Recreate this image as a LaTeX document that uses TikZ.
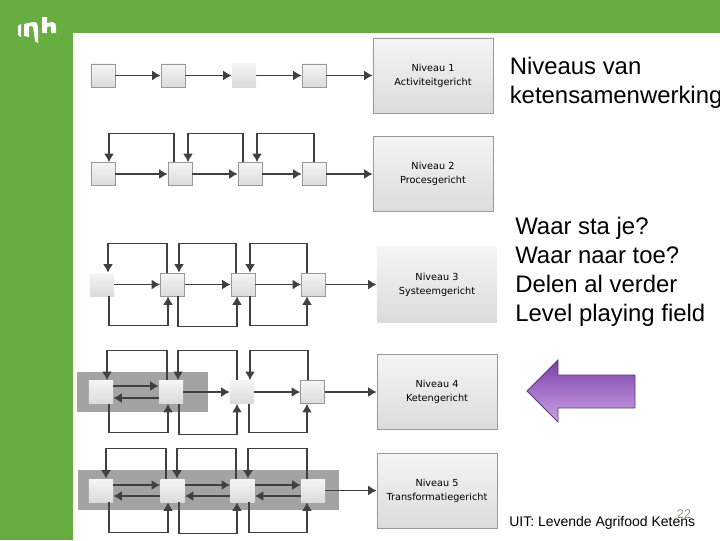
\documentclass[tikz,border=0pt]{standalone}
\usepackage{fontspec}
\setmainfont{Liberation Sans}
\newfontfamily\labelfont{DejaVu Sans}
\usetikzlibrary{arrows.meta,calc}
\definecolor{band}{HTML}{68AD3F}
\definecolor{flowgray}{HTML}{404040}
\definecolor{edgegray}{HTML}{999999}
\definecolor{zone}{HTML}{A3A3A3}
\definecolor{pagenr}{HTML}{7F9F6F}
\definecolor{purpletop}{HTML}{7B3FA8}
\definecolor{purplelow}{HTML}{CBA4E6}
\definecolor{purpleedge}{HTML}{5E3A80}

\begin{document}
\begin{tikzpicture}[
      x=0.025cm,y=-0.025cm,
      step box/.style={draw=edgegray,top color=black!4,bottom color=black!14,minimum width=0.6cm,minimum height=0.575cm,inner sep=0pt,line width=0.5pt},
      flat box/.style={step box,draw=none},
      level box/.style={draw=edgegray,top color=black!4,bottom color=black!14,minimum width=3cm,minimum height=1.875cm,align=center,inner sep=0pt,font=\labelfont\fontsize{6.9}{10}\selectfont,line width=0.5pt},
      flow/.style={draw=flowgray,line width=0.9pt,-{Latex[length=6pt,width=7pt]}},
      body/.style={anchor=west,align=left,inner sep=0pt,font=\fontsize{17}{20.6}\selectfont}]

    \useasboundingbox (0,0) rectangle (720,540);

    % page
    \fill[band] (0,0) rectangle (720,33);
    \fill[band] (0,0) rectangle (73,540);
    \fill[white] (18,26) -- (21,24) -- (21,37) -- (18,35) -- cycle;
    \fill[white] (24,24) -- (33,22) .. controls (37,22) and (38,24) .. (38,27) -- (38,43) -- (35,41) -- (33,27) .. controls (33,26) and (31,26) .. (29,26) -- (29,37) -- (24,36) -- cycle;
    \fill[white] (42,17) -- (47,17) -- (47,23) -- (52,22) .. controls (55,22) and (56,24) .. (56,26) -- (56,33) -- (51,33) -- (51,27) .. controls (51,26) and (49,26) .. (47,27) -- (47,33) -- (42,33) -- cycle;

    % grey zones
    \fill[zone] (77,372) rectangle (208,412);
    \fill[zone] (78,470) rectangle (339,510);

    % level 1
    \node[step box] (b11) at (103,75.5) {};
    \node[step box] (b12) at (173,75.5) {};
    \node[flat box] (b13) at (244,75.5) {};
    \node[step box] (b14) at (314,75.5) {};
    \node[level box] (l1) at (433,75.5) {Niveau 1\\Activiteitgericht};

    \draw[flow] (b11) -- (b12);
    \draw[flow] (b12) -- (b13);
    \draw[flow] (b13) -- (b14);
    \draw[flow] (b14) -- (l1);

    % level 2
    \node[step box] (b21) at (103,174) {};
    \node[step box] (b22) at (180,174) {};
    \node[step box] (b23) at (250,174) {};
    \node[step box] (b24) at (314,174) {};
    \node[level box] (l2) at (433,174) {Niveau 2\\Procesgericht};

    \draw[flow] (b21) -- (b22);
    \draw[flow] (b22) -- (b23);
    \draw[flow] (b23) -- (b24);
    \draw[flow] (b24) -- (l2);
    \draw[flow] ($(b22.north)+(-6,0)$) -- ++(0,-29) -| ($(b21.north)+(6,0)$);
    \draw[flow] ($(b23.north)+(-7,0)$) -- ++(0,-29) -| ($(b22.north)+(8,0)$);
    \draw[flow] (b24.north) -- ++(0,-29) -| ($(b23.north)+(7,0)$);

    % level 3
    \node[flat box] (b31) at (102,284.5) {};
    \node[step box] (b32) at (172.5,284.5) {};
    \node[step box] (b33) at (243,284.5) {};
    \node[step box] (b34) at (313.5,284.5) {};
    \node[level box,draw=none] (l3) at (437,284.5) {Niveau 3\\Systeemgericht};

    \draw[flow] (b31) -- (b32);
    \draw[flow] (b32) -- (b33);
    \draw[flow] (b33) -- (b34);
    \draw[flow] (b34) -- (l3);
    \draw[flow] ($(b32.north)+(-5.5,0)$) -- ++(0,-29) -| ($(b31.north)+(6,0)$);
    \draw[flow] ($(b33.north)+(-7,0)$) -- ++(0,-29) -| ($(b32.north)+(6.5,0)$);
    \draw[flow] ($(b34.north)+(-6.5,0)$) -- ++(0,-29) -| ($(b33.north)+(7,0)$);
    \draw[flow] ($(b31.south)+(7,0)$) -- ++(0,29) -| ($(b32.south)+(-4.5,0)$);
    \draw[flow] ($(b32.south)+(5.5,0)$) -- ++(0,30) -| ($(b33.south)+(-6,0)$);
    \draw[flow] ($(b33.south)+(7,0)$) -- ++(0,29) -| ($(b34.south)+(-6.5,0)$);

    % level 4
    \node[flat box] (b41) at (101,392) {};
    \node[flat box] (b42) at (171,392) {};
    \node[flat box] (b43) at (242,392) {};
    \node[step box] (b44) at (312.5,392) {};
    \node[level box] (l4) at (437,392) {Niveau 4\\Ketengericht};

    \draw[flow] ($(b41.east)+(0,-6)$) -- ($(b42.west)+(0,-6)$);
    \draw[flow] ($(b42.west)+(0,6)$) -- ($(b41.east)+(0,6)$);
    \draw[flow] (b42) -- (b43);
    \draw[flow] (b43) -- (b44);
    \draw[flow] (b44) -- (l4);
    \draw[flow] ($(b42.north)+(-4,0)$) -- ++(0,-29.5) -| ($(b41.north)+(6,0)$);
    \draw[flow] ($(b43.north)+(-5,0)$) -- ++(0,-29.5) -| ($(b42.north)+(7,0)$);
    \draw[flow] ($(b44.north)+(-4.5,0)$) -- ++(0,-29.5) -| ($(b43.north)+(8,0)$);
    \draw[flow] ($(b41.south)+(8,0)$) -- ++(0,28.5) -| ($(b42.south)+(-3,0)$);
    \draw[flow] ($(b42.south)+(8,0)$) -- ++(0,30.5) -| ($(b43.south)+(-5,0)$);
    \draw[flow] ($(b43.south)+(7,0)$) -- ++(0,28.5) -| ($(b44.south)+(-5.5,0)$);

    % level 5
    \node[flat box] (b51) at (101,490.5) {};
    \node[flat box] (b52) at (172.5,490.5) {};
    \node[flat box] (b53) at (242.5,490.5) {};
    \node[flat box] (b54) at (313,490.5) {};
    \node[level box] (l5) at (437,490.5) {Niveau 5\\Transformatiegericht};

    \draw[flow] ($(b51.east)+(0,-5.5)$) -- ($(b52.west)+(0,-5.5)$);
    \draw[flow] ($(b52.west)+(0,5.5)$) -- ($(b51.east)+(0,5.5)$);
    \draw[flow] ($(b52.east)+(0,-5.5)$) -- ($(b53.west)+(0,-5.5)$);
    \draw[flow] ($(b53.west)+(0,5.5)$) -- ($(b52.east)+(0,5.5)$);
    \draw[flow] ($(b53.east)+(0,-5.5)$) -- ($(b54.west)+(0,-5.5)$);
    \draw[flow] ($(b54.west)+(0,5.5)$) -- ($(b53.east)+(0,5.5)$);
    \draw[flow] (b54) -- (l5);
    \draw[flow] ($(b52.north)+(-6.5,0)$) -- ++(0,-30) -| ($(b51.north)+(5,0)$);
    \draw[flow] ($(b53.north)+(-6.5,0)$) -- ++(0,-30) -| ($(b52.north)+(4.5,0)$);
    \draw[flow] ($(b54.north)+(-6,0)$) -- ++(0,-30) -| ($(b53.north)+(5.5,0)$);
    \draw[flow] ($(b51.south)+(8,0)$) -- ++(0,30) -| ($(b52.south)+(-4.5,0)$);
    \draw[flow] ($(b52.south)+(6.5,0)$) -- ++(0,31) -| ($(b53.south)+(-5.5,0)$);
    \draw[flow] ($(b53.south)+(6.5,0)$) -- ++(0,30) -| ($(b54.south)+(-6,0)$);

    % right column
    \node[body] (title) at (509.5,82.5) {Niveaus van\\ketensamenwerking};
    \node[body] (vragen) at (515,272) {Waar sta je?\\Waar naar toe?\\Delen al verder\\Level playing field};
    \draw[purpleedge,line width=0.6pt,top color=purpletop,bottom color=purplelow]
      (527,391) -- (558,360) -- (558,375) -- (635,375) -- (635,408) -- (558,408) -- (558,422) -- cycle;
    \node[anchor=west,inner sep=0pt,font=\fontsize{9.95}{12}\selectfont] (bron) at (509,523) {UIT: Levende Agrifood Ketens};
    \node[inner sep=0pt,text=pagenr,font=\fontsize{9}{11}\selectfont] (pagina) at (684,514) {22};
\end{tikzpicture}
\end{document}
